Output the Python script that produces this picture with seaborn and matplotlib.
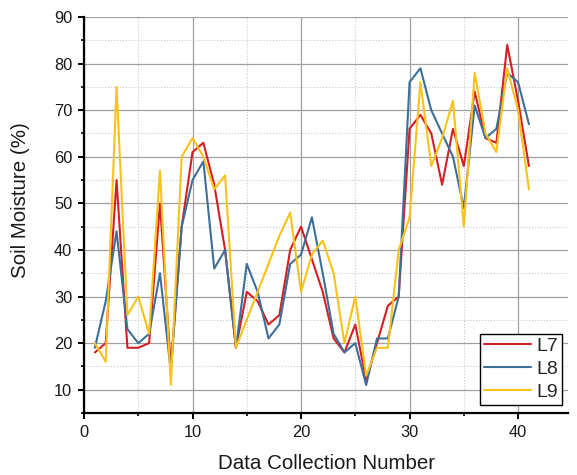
import numpy as np
import pandas as pd
import matplotlib
matplotlib.use("Agg")
import matplotlib.pyplot as plt
import seaborn as sns
from matplotlib.ticker import MultipleLocator

x = list(range(1, 42))
L7 = [18, 20, 55, 19, 19, 20, 50, 15, 45, 61, 63, 54, 40, 19, 31, 29, 24, 26, 40, 45,
      38, 31, 21, 18, 24, 12, 20, 28, 30, 66, 69, 65, 54, 66, 58, 74, 64, 63, 84, 72, 58]
L8 = [19, 29, 44, 23, 20, 22, 35, 14, 45, 55, 59, 36, 40, 19, 37, 31, 21, 24, 37, 39,
      47, 35, 22, 18, 20, 11, 21, 21, 30, 76, 79, 70, 65, 60, 49, 71, 64, 66, 78, 76, 67]
L9 = [20, 16, 75, 26, 30, 22, 57, 11, 60, 64, 60, 53, 56, 19, 25, 31, 37, 43, 48, 31,
      39, 42, 35, 20, 30, 13, 19, 19, 40, 47, 76, 58, 64, 72, 45, 78, 65, 61, 79, 70, 53]
series_names = ["L7", "L8", "L9"]
colors = ["#d41f26", "#3d6f98", "#f9c21b"]

df = pd.DataFrame({"n": x * 3,
                   "v": L7 + L8 + L9,
                   "s": [s for s in series_names for _ in x]})

sns.set_theme(style="white")
plt.rcParams['font.family'] = ['Liberation Sans', 'DejaVu Sans']

fig = plt.figure(figsize=(5.77, 4.75), dpi=100)
ax = fig.add_axes([84/577, 1-413/475, (568-84)/577, (413-17)/475])

sns.lineplot(data=df, x="n", y="v", hue="s", palette=colors, linewidth=1.5, ax=ax)

ax.set_xlim(0, 44.6)
ax.set_ylim(5, 90)
ax.xaxis.set_major_locator(MultipleLocator(10))
ax.xaxis.set_minor_locator(MultipleLocator(5))
ax.yaxis.set_minor_locator(MultipleLocator(5))
ax.set_yticks([10, 20, 30, 40, 50, 60, 70, 80, 90])

ax.grid(which="major", color="#a0a0a0", linestyle="-", linewidth=0.9)
ax.grid(which="minor", color="#c8c8c8", linestyle=":", linewidth=0.8)
ax.set_axisbelow(True)

for side in ["top", "right"]:
    ax.spines[side].set_visible(False)
for side in ["left", "bottom"]:
    ax.spines[side].set_color("black")
    ax.spines[side].set_linewidth(1.6)

ax.tick_params(which="major", direction="out", length=4.5, width=1.4, color="black",
               labelsize=11.8, labelcolor="#1a1a1a", bottom=True, left=True, pad=4)
ax.tick_params(which="minor", direction="out", length=2.5, width=1.2, color="black",
               bottom=True, left=True)

ax.set_xlabel("Data Collection Number", fontsize=14.8, color="#1a1a1a")
ax.set_ylabel("Soil Moisture (%)", fontsize=14.8, color="#1a1a1a")
ax.xaxis.set_label_coords(0.502, -0.104)
ax.yaxis.set_label_coords(-0.112, 0.538)

leg = ax.legend(loc="lower right", bbox_to_anchor=(0.9876, 0.02), borderaxespad=0,
                fontsize=14, frameon=True, fancybox=False, edgecolor="black",
                framealpha=1, handlelength=2.4, handletextpad=0.3, borderpad=0.2,
                labelspacing=0.28, title=None)
leg.get_frame().set_linewidth(1.0)

fig.savefig("out.png", dpi=100)
